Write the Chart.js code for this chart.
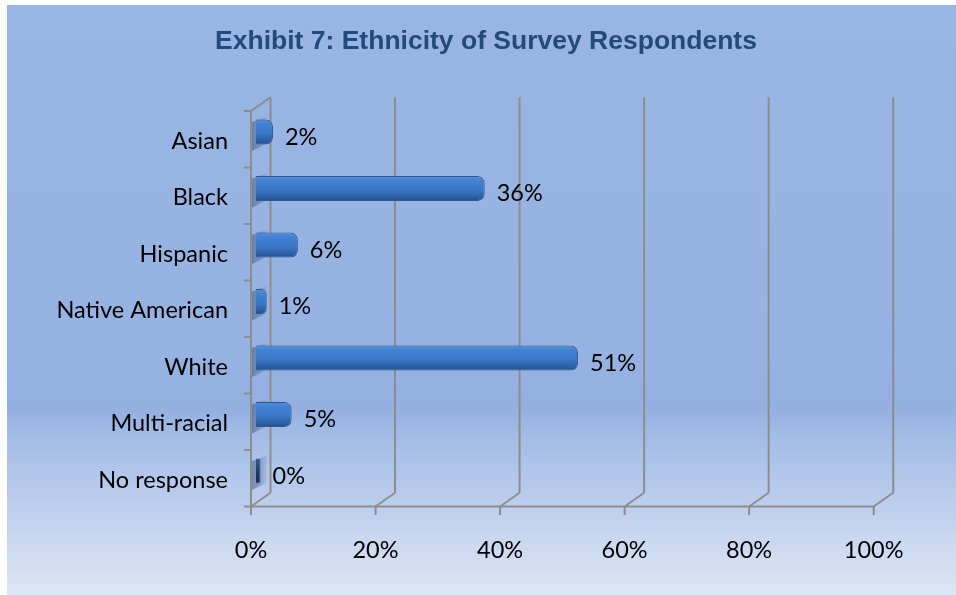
<!DOCTYPE html>
<html><head><meta charset="utf-8">
<script src="https://cdn.jsdelivr.net/npm/chart.js@4.4.1/dist/chart.umd.min.js"></script>
<style>html,body{margin:0;padding:0;background:#fff;overflow:hidden}#wrap{width:956px;height:595px;position:relative}</style>
</head><body><div id="wrap"><canvas id="c" width="956" height="595"></canvas></div>
<script>
const chartTitle = 'Exhibit 7: Ethnicity of Survey Respondents';
const categories = ['Asian', 'Black', 'Hispanic', 'Native American', 'White', 'Multi-racial', 'No response'];
const percentValues = [2, 36, 6, 1, 51, 5, 0];
const xTickStep = 20;
const xMin = 0, xMax = 100;

const LABEL_FONT = {family: 'Lato', size: 23.5};
const FRONT = {dx: -9.5, dy: 7.2};
const BACK = {dx: 10, dy: -6.5};
const GRID = '#8d8d8d';

function line(ctx, x1, y1, x2, y2) { ctx.beginPath(); ctx.moveTo(x1, y1); ctx.lineTo(x2, y2); ctx.stroke(); }

const bgPlugin = {
  id: 'bg',
  beforeDraw(chart) {
    const ctx = chart.ctx;
    ctx.save();
    ctx.fillStyle = '#ffffff';
    ctx.fillRect(0, 0, chart.width, chart.height);
    const g = ctx.createLinearGradient(0, 5, 0, chart.height);
    g.addColorStop(0, '#99b5e3');
    g.addColorStop(0.6, '#96b2e2');
    g.addColorStop(0.68, '#93afe0');
    g.addColorStop(0.73, '#a3bce6');
    g.addColorStop(1, '#dee6f5');
    ctx.fillStyle = g;
    ctx.fillRect(7, 5, chart.width - 7, chart.height - 5);
    ctx.restore();
  }
};

const wallsPlugin = {
  id: 'walls',
  beforeDatasetsDraw(chart) {
    const {ctx, chartArea: a, scales: {x, y}} = chart;
    ctx.save();
    const x0 = x.getPixelForValue(xMin), x100 = x.getPixelForValue(xMax);
    const fx0 = x0 + FRONT.dx, bx0 = x0 + BACK.dx;
    const fyTop = a.top + FRONT.dy, fyBot = a.bottom + FRONT.dy;
    const byTop = a.top + BACK.dy, byBot = a.bottom + BACK.dy;
    categories.forEach((c, i) => {
      const yc = y.getPixelForValue(i);
      const g = ctx.createLinearGradient(fx0, 0, bx0, 0);
      g.addColorStop(0, 'rgba(50,70,110,0.5)');
      g.addColorStop(0.5, 'rgba(60,80,120,0.3)');
      g.addColorStop(1, 'rgba(80,100,140,0.0)');
      ctx.fillStyle = g;
      ctx.beginPath();
      ctx.moveTo(fx0 + 1, yc - 10);
      ctx.lineTo(bx0 - 4, yc - 15);
      ctx.lineTo(bx0 - 4, yc + 12);
      ctx.lineTo(fx0 + 1, yc + 19);
      ctx.closePath();
      ctx.fill();
    });
    ctx.strokeStyle = GRID;
    ctx.lineWidth = 2;
    x.ticks.forEach(t => {
      const px = x.getPixelForValue(t.value);
      const fx = px + FRONT.dx, bx = px + BACK.dx;
      line(ctx, bx, byTop, bx, byBot);
      line(ctx, fx, fyBot, bx, byBot);
      line(ctx, fx, fyBot, fx, fyBot + 8.5);
    });
    line(ctx, fx0 - 1, fyBot, x100 + FRONT.dx + 1, fyBot);
    line(ctx, fx0, fyTop, fx0, fyBot);
    line(ctx, fx0, fyTop, bx0, byTop);
    for (let i = 0; i <= categories.length; i++) {
      const yy = y.getPixelForValue(i - 0.5) + FRONT.dy;
      line(ctx, fx0 - 7, yy, fx0, yy);
    }
    ctx.restore();
  }
};

const labelsPlugin = {
  id: 'dataLabels',
  afterDatasetsDraw(chart) {
    const ctx = chart.ctx;
    const meta = chart.getDatasetMeta(0);
    ctx.save();
    ctx.font = `${LABEL_FONT.size}px ${LABEL_FONT.family}`;
    ctx.fillStyle = '#000';
    ctx.textAlign = 'left';
    ctx.textBaseline = 'middle';
    meta.data.forEach((el, i) => {
      const v = chart.data.datasets[0].data[i];
      ctx.fillText(v + '%', el.x + 12, el.y + 5);
    });
    ctx.restore();
  }
};

function barGradient(c) {
  const chart = c.chart;
  if (!chart.chartArea || !chart.scales.y) return '#3a76c6';
  const yc = chart.scales.y.getPixelForValue(c.dataIndex);
  const g = chart.ctx.createLinearGradient(0, yc - 12.5, 0, yc + 12.5);
  if (c.raw === 0) {
    g.addColorStop(0, '#2f5a92');
    g.addColorStop(0.5, '#1d3d6a');
    g.addColorStop(1, '#142c4f');
    return g;
  }
  g.addColorStop(0, '#5590da');
  g.addColorStop(0.18, '#4382d2');
  g.addColorStop(0.55, '#3a77c6');
  g.addColorStop(0.85, '#2d5fa3');
  g.addColorStop(1, '#244d88');
  return g;
}

new Chart(document.getElementById('c'), {
  type: 'bar',
  data: {
    labels: categories,
    datasets: [{
      data: percentValues,
      base: -0.75,
      clip: false,
      backgroundColor: barGradient,
      borderColor: '#2a5893',
      borderWidth: 1,
      borderSkipped: 'start',
      borderRadius: {topLeft: 0, bottomLeft: 0, topRight: 7, bottomRight: 7},
      barPercentage: 0.44,
      categoryPercentage: 1
    }]
  },
  options: {
    indexAxis: 'y',
    responsive: false,
    animation: false,
    layout: {padding: {left: 16, right: 0, top: 0, bottom: 0}},
    plugins: {
      legend: {display: false},
      tooltip: {enabled: false},
      title: {
        display: true,
        text: chartTitle,
        color: '#24497c',
        font: {family: 'Liberation Sans', weight: 'bold', size: 26.5, lineHeight: 1.2},
        padding: {top: 26, bottom: 46}
      }
    },
    scales: {
      x: {
        type: 'linear', min: xMin, max: xMax,
        grid: {display: false, drawTicks: false},
        border: {display: false},
        ticks: {stepSize: xTickStep, callback: v => v + '%', color: '#000', font: LABEL_FONT, padding: 37, labelOffset: -9.5, maxRotation: 0},
        afterFit: s => { s.height = 95.7; }
      },
      y: {
        type: 'category', position: 'left',
        grid: {display: false, drawTicks: false},
        border: {display: false},
        ticks: {color: '#000', font: LABEL_FONT, padding: 32.5, labelOffset: 9},
        afterFit: s => { s.width = 244.5; }
      },
      yRight: {
        type: 'category', position: 'right', axis: 'y',
        grid: {display: false, drawTicks: false},
        border: {display: false},
        ticks: {display: false},
        afterFit: s => { s.width = 72.8; }
      }
    }
  },
  plugins: [bgPlugin, wallsPlugin, labelsPlugin]
});
</script>
</body></html>
